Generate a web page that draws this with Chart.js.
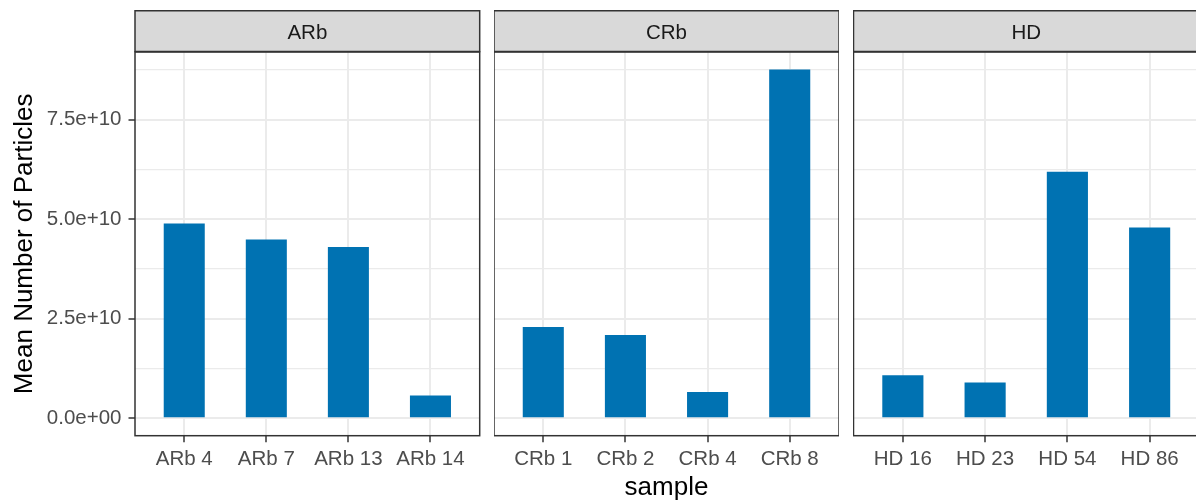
<!DOCTYPE html>
<html>
<head>
<meta charset="utf-8">
<script src="https://cdn.jsdelivr.net/npm/chart.js@4/dist/chart.umd.min.js"></script>
<style>
  html, body { margin: 0; padding: 0; background: #ffffff; overflow: hidden; }
  #wrap { position: relative; width: 1196px; height: 503px; overflow: hidden; }
  canvas { position: absolute; top: 0; }
</style>
</head>
<body>
<div id="wrap">
  <canvas id="panelArb" width="482" height="503" style="left:0px"></canvas>
  <canvas id="panelCrb" width="345" height="503" style="left:494px"></canvas>
  <canvas id="panelHd" width="346" height="503" style="left:853px"></canvas>
</div>
<script>
// Facet groups and their samples
const groupNames = ['ARb', 'CRb', 'HD'];

const arbSamples = ['ARb 4', 'ARb 7', 'ARb 13', 'ARb 14'];
const arbValues  = [4.89e10, 4.49e10, 4.30e10, 0.57e10];

const crbSamples = ['CRb 1', 'CRb 2', 'CRb 4', 'CRb 8'];
const crbValues  = [2.29e10, 2.09e10, 0.66e10, 8.76e10];

const hdSamples = ['HD 16', 'HD 23', 'HD 54', 'HD 86'];
const hdValues  = [1.08e10, 0.90e10, 6.19e10, 4.79e10];

// Y axis tick positions (labelled major lines and unlabelled minor lines)
const majorTicks = [0, 2.5e10, 5.0e10, 7.5e10];
const minorTicks = [1.25e10, 3.75e10, 6.25e10, 8.75e10];

const yTitle = 'Mean Number of Particles';
const xTitle = 'sample';

// Shared y range: bars start at zero, 5% expansion on both ends
const allValues = [...arbValues, ...crbValues, ...hdValues];
const dataMax = Math.max(...allValues);
const yMin = -0.05 * dataMax;
const yMax = dataMax * 1.05;

const FONT = '"Liberation Sans", Arial, Helvetica, sans-serif';
const TICK_SIZE = 20.5;
const TITLE_SIZE = 26;
const BAR_BLUE = '#0072B2';
const GRID = '#ebebeb';
const DARK = '#333333';

Chart.defaults.font.family = FONT;

// Scientific notation with a two-digit exponent, e.g. 2.5e+10, 0.0e+00
function fmtExp(v) {
  const parts = v.toExponential(1).split('e');
  const sign = parts[1][0];
  const digits = parts[1].slice(1).padStart(2, '0');
  return parts[0] + 'e' + sign + digits;
}

const allYTicks = [...majorTicks, ...minorTicks].sort((a, b) => a - b);
const isMajor = (v) => majorTicks.some(m => Math.abs(m - v) < 1);

const STRIP_TOP = 10.75;
const STRIP_BOTTOM = 51.5;
const PANEL_BOTTOM = 435.7;

// Grey strip with the facet name, plus the dark panel border
const panelDecor = {
  id: 'panelDecor',
  afterDraw(chart, args, opts) {
    const { ctx, chartArea } = chart;
    const l = chartArea.left, r = chartArea.right, t = chartArea.top, b = chartArea.bottom;
    ctx.save();
    ctx.fillStyle = '#d9d9d9';
    ctx.fillRect(l, STRIP_TOP, r - l, STRIP_BOTTOM - STRIP_TOP);
    ctx.lineWidth = 1.5;
    ctx.strokeStyle = DARK;
    ctx.strokeRect(l, STRIP_TOP, r - l, STRIP_BOTTOM - STRIP_TOP);
    ctx.strokeRect(l, t, r - l, b - t);
    ctx.fillStyle = '#1a1a1a';
    ctx.font = TICK_SIZE + 'px ' + FONT;
    ctx.textAlign = 'center';
    ctx.textBaseline = 'alphabetic';
    ctx.fillText(opts.name, (l + r) / 2, 39.3);
    ctx.restore();
  }
};

function makePanel(canvasId, name, samples, values, cfg) {
  const ctx = document.getElementById(canvasId).getContext('2d');
  return new Chart(ctx, {
    type: 'bar',
    data: {
      datasets: [{
        data: samples.map((s, i) => ({ x: i, y: values[i] })),
        backgroundColor: BAR_BLUE,
        borderWidth: 0,
        categoryPercentage: 1.0,
        barPercentage: 0.5
      }]
    },
    plugins: [panelDecor],
    options: {
      responsive: false,
      animation: false,
      events: [],
      layout: { padding: { top: 52, bottom: 0, left: cfg.padLeft, right: cfg.padRight } },
      plugins: {
        legend: { display: false },
        tooltip: { enabled: false },
        panelDecor: { name: name }
      },
      scales: {
        x: {
          type: 'linear',
          offset: false,
          min: -0.6,
          max: samples.length - 1 + 0.6,
          afterBuildTicks: (axis) => { axis.ticks = samples.map((s, i) => ({ value: i })); },
          afterFit: (scale) => { scale.height = 503 - PANEL_BOTTOM; },
          grid: {
            offset: false,
            color: GRID,
            lineWidth: 2,
            tickColor: DARK,
            tickWidth: 1.5,
            tickLength: 6.5,
            drawTicks: true
          },
          border: { display: false },
          ticks: {
            autoSkip: false,
            maxRotation: 0,
            minRotation: 0,
            padding: 5,
            color: '#4d4d4d',
            font: { size: TICK_SIZE },
            callback: (v, idx) => samples[idx]
          },
          title: {
            display: cfg.showXTitle,
            text: xTitle,
            color: '#000000',
            font: { size: TITLE_SIZE },
            padding: { top: 0, bottom: 0 }
          }
        },
        y: {
          type: 'linear',
          min: yMin,
          max: yMax,
          afterBuildTicks: (axis) => { axis.ticks = allYTicks.map(v => ({ value: v })); },
          afterFit: (scale) => { scale.width = cfg.yWidth; },
          grid: {
            color: GRID,
            lineWidth: (c) => (c.tick && isMajor(c.tick.value)) ? 2 : 1.2,
            tickColor: (c) => (c.tick && isMajor(c.tick.value)) ? DARK : 'rgba(0,0,0,0)',
            tickWidth: 1.5,
            tickLength: 6.5,
            drawTicks: cfg.showY
          },
          border: { display: false },
          ticks: {
            display: cfg.showY,
            padding: 7,
            color: '#4d4d4d',
            font: { size: TICK_SIZE },
            callback: (v) => isMajor(v) ? fmtExp(v) : ''
          },
          title: {
            display: cfg.showY,
            text: yTitle,
            color: '#000000',
            font: { size: TITLE_SIZE },
            padding: { top: 9, bottom: 0 }
          }
        }
      }
    }
  });
}

makePanel('panelArb', groupNames[0], arbSamples, arbValues,
  { showY: true, showXTitle: false, yWidth: 135, padLeft: 0, padRight: 2.3 });
makePanel('panelCrb', groupNames[1], crbSamples, crbValues,
  { showY: false, showXTitle: true, yWidth: 0, padLeft: 0, padRight: 0 });
makePanel('panelHd', groupNames[2], hdSamples, hdValues,
  { showY: false, showXTitle: false, yWidth: 0, padLeft: 0.5, padRight: 0 });
</script>
</body>
</html>
